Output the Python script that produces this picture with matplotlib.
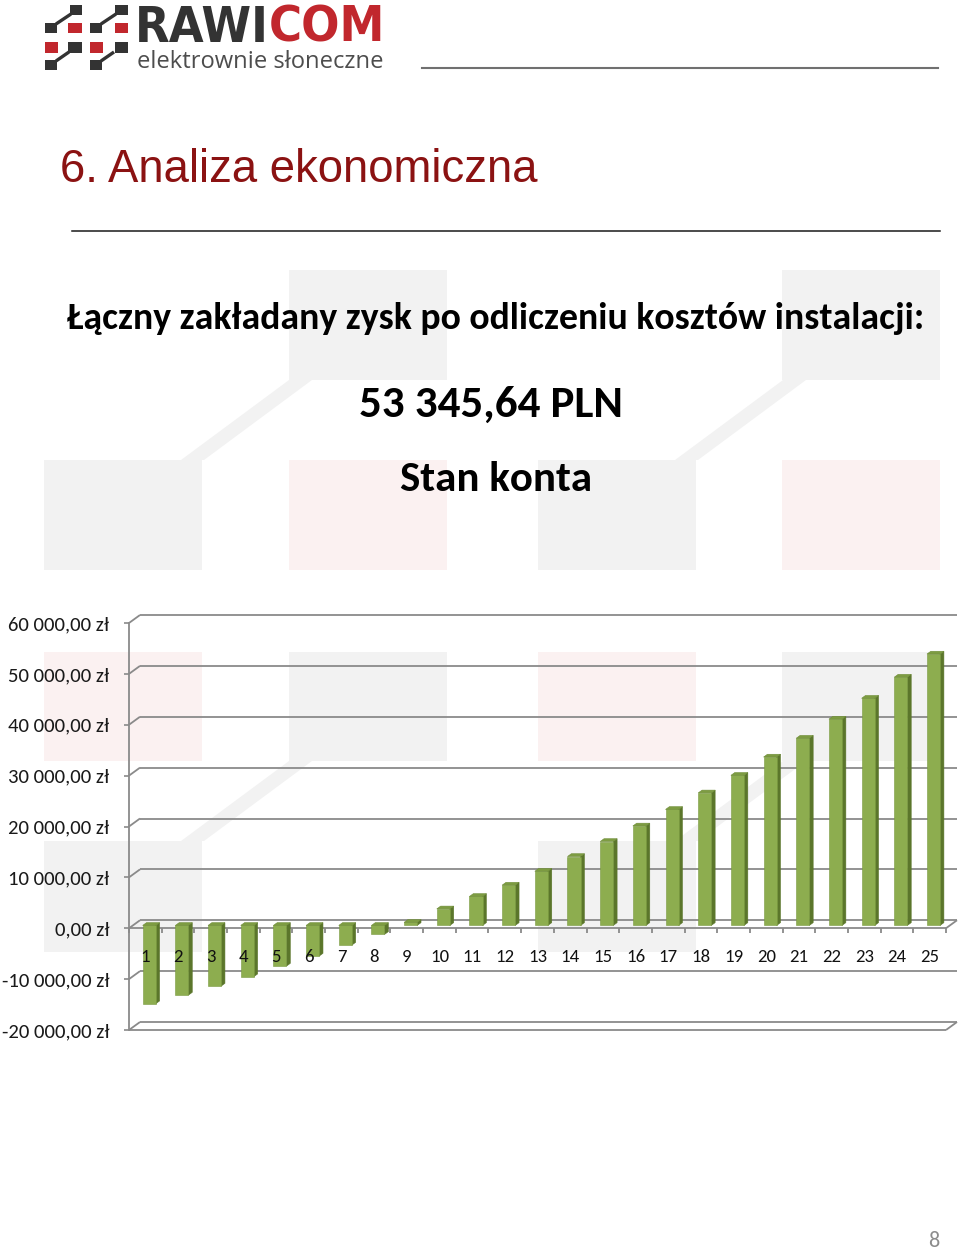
import matplotlib
matplotlib.use("Agg")
import matplotlib.pyplot as plt
import matplotlib.transforms as mtransforms
from matplotlib.patches import Polygon, Rectangle
from matplotlib import font_manager as fm

# ---------------- data ----------------
years = list(range(1, 26))
balance = [-15390, -13700, -11930, -10080, -8000, -6030, -3870, -1770, 600, 3250,
           5700, 7920, 10650, 13550, 16500, 19550, 22800, 26050, 29500, 33100,
           36800, 40550, 44650, 48800, 53345.64]
tick_values = [-20000, -10000, 0, 10000, 20000, 30000, 40000, 50000, 60000]
tick_labels = ["-20 000,00 zł", "-10 000,00 zł", "0,00 zł", "10 000,00 zł",
               "20 000,00 zł", "30 000,00 zł", "40 000,00 zł", "50 000,00 zł",
               "60 000,00 zł"]
heading = "Łączny zakładany zysk po odliczeniu kosztów instalacji:"
total_text = "53 345,64 PLN"
chart_title = "Stan konta"
slide_title = "6. Analiza ekonomiczna"

# ---------------- setup ----------------
W, H = 960, 1249
fig = plt.figure(figsize=(W / 100, H / 100), dpi=100)
fig.patch.set_facecolor("white")


def avail(name):
    try:
        fm.findfont(fm.FontProperties(family=name), fallback_to_default=False)
        return True
    except Exception:
        return False


BODY = "Carlito" if avail("Carlito") else "Lato"
ARIAL = "Liberation Sans"

# a condensed bold face for the logo, if one is installed
cands = []
for f in fm.fontManager.ttflist:
    nm = f.name + " " + str(f.fname)
    narrow = ("Condensed" in nm or "Narrow" in nm or "Cond" in nm or
              str(f.stretch) in ("condensed", "semi-condensed", "extra-condensed"))
    w = f.weight if isinstance(f.weight, int) else (700 if "bold" in str(f.weight).lower() else 400)
    if narrow and w >= 600 and "Oblique" not in f.fname and "Italic" not in f.fname:
        cands.append(f)
if cands:
    cands.sort(key=lambda f: (0 if "Sans" in f.name else 1, f.fname))
    logo_fp = fm.FontProperties(fname=cands[0].fname)
else:
    logo_fp = fm.FontProperties(family="DejaVu Sans", weight="bold")

renderer = fig.canvas.get_renderer()


def fy(py):
    return 1 - py / H


def fit_text(s, x, width, baseline, ha="left", **kw):
    t = fig.text(x / W, fy(baseline), s, ha=ha, va="baseline", fontsize=20, **kw)
    w = t.get_window_extent(renderer).width
    t.set_fontsize(20 * width / w)
    return t


def fit_size(s, width, **kw):
    t = fig.text(0, 0, s, fontsize=20, **kw)
    w = t.get_window_extent(renderer).width
    t.remove()
    return 20 * width / w


# ---------------- background (watermark + logo) ----------------
bg = fig.add_axes([0, 0, 1, 1], zorder=0)
bg.set_xlim(0, W)
bg.set_ylim(H, 0)
bg.axis("off")

WM_GREY = "#f2f2f2"
WM_PINK = "#fbf1f1"
cols = [(44, 202), (289, 447), (538, 696), (782, 940)]
rows = [(270, 380), (460, 570), (652, 761), (841, 952)]
pattern = [
    [None, WM_GREY, None, WM_GREY],
    [WM_GREY, WM_PINK, WM_GREY, WM_PINK],
    [WM_PINK, WM_GREY, WM_PINK, WM_GREY],
    [WM_GREY, None, WM_GREY, None],
]
for r, (y0, y1) in enumerate(rows):
    for c, (x0, x1) in enumerate(cols):
        col = pattern[r][c]
        if col:
            bg.add_patch(Rectangle((x0, y0), x1 - x0, y1 - y0, color=col, lw=0))
for (ylow, yup) in [(460, 380), (841, 761)]:
    for off in (0, 494):
        bg.add_patch(Polygon([(181 + off, ylow), (204 + off, ylow),
                              (312 + off, yup), (289 + off, yup)],
                             closed=True, color=WM_GREY, lw=0))

# logo icon
DARK = "#333333"
RED = "#c1272d"
logo_sq = [
    (70, 5, 82, 15, DARK), (115, 5, 128, 15, DARK),
    (45, 23, 57, 33, DARK), (68, 23, 82, 33, RED), (90, 23, 102, 33, DARK), (115, 23, 128, 33, RED),
    (45, 42, 58, 53, RED), (68, 42, 82, 53, DARK), (90, 42, 103, 53, RED), (115, 42, 128, 53, DARK),
    (45, 60, 57, 70, DARK), (90, 60, 102, 70, DARK),
]
for x0, y0, x1, y1, c in logo_sq:
    bg.add_patch(Rectangle((x0, y0), x1 - x0, y1 - y0, color=c, lw=0))
for off in (0, 45):
    bg.plot([71 + off, 56 + off], [14, 24], color=DARK, lw=2.4, solid_capstyle="butt")
    bg.plot([69 + off, 56 + off], [52, 61], color=DARK, lw=2.4, solid_capstyle="butt")

# logo text
fs_logo = fit_size("RAWICOM", 250, fontproperties=logo_fp)
t_r = fig.text(135 / W, fy(42), "RAWI", fontproperties=logo_fp, color=DARK, va="baseline")
t_r.set_fontsize(fs_logo)
wr = t_r.get_window_extent(renderer).width
t_c = fig.text((135 + wr) / W, fy(42), "COM", fontproperties=logo_fp, color=RED, va="baseline")
t_c.set_fontsize(fs_logo)
fit_text("elektrownie słoneczne", 137, 245, 68, fontfamily="Open Sans", color="#4d4d4d")
bg.plot([422, 938], [68, 68], color="#707070", lw=1.5)

# slide title
fit_text(slide_title, 60, 478, 182, fontfamily=ARIAL, color="#8b1212")
bg.plot([72, 940], [231, 231], color="#1a1a1a", lw=1.1)

# headings
fit_text(heading, 496, 858, 329, ha="center", fontfamily=BODY, fontweight="bold", color="black")
fit_text(total_text, 491, 264, 417, ha="center", fontfamily=BODY, fontweight="bold", color="black")
fit_text(chart_title, 496, 192, 491, ha="center", fontfamily=BODY, fontweight="bold", color="black")

# page number
fig.text(933.5 / W, fy(1247), "8", ha="center", va="baseline", fontsize=16,
         fontfamily=BODY, color="#8c8c8c")

# ---------------- chart ----------------
FL, FR, FB, FT = 129, 946, 1030, 623  # front plane in pixels
ax = fig.add_axes([FL / W, fy(FB), (FR - FL) / W, (FB - FT) / H], zorder=2)
ax.set_xlim(0.5, 25.5)
ax.set_ylim(-20000, 60000)
ax.patch.set_alpha(0)
for s in ["top", "right", "bottom"]:
    ax.spines[s].set_visible(False)
GRID = "#8a8a8a"
ax.spines["left"].set_color(GRID)
ax.spines["left"].set_linewidth(1.3)
ax.set_xticks([])
fs_tick = fit_size("60 000,00 zł", 101, fontfamily=BODY)
ax.set_yticks(tick_values)
ax.set_yticklabels(tick_labels, fontfamily=BODY, fontsize=fs_tick, color="#1a1a1a")
ax.tick_params(axis="y", length=3.6, width=1.2, color=GRID, pad=10.5)

ux = 25 / (FR - FL)
uy = 80000 / (FB - FT)
DX = 11 * ux
DY = 8 * uy

lkw = dict(color=GRID, lw=1.3, clip_on=False, zorder=1, solid_capstyle="butt")
for v in tick_values:
    ax.plot([0.5, 0.5 + DX], [v, v + DY], **lkw)
    ax.plot([0.5 + DX, 25.5 + DX], [v + DY, v + DY], **lkw)
for v in (0, -20000):
    ax.plot([0.5, 25.5], [v, v], **lkw)
    ax.plot([25.5, 25.5 + DX], [v, v + DY], **lkw)
for b in range(26):
    ax.plot([b + 0.5, b + 0.5], [0, -5 * uy], **lkw)

FRONT_C = "#8dad4f"
SIDE_C = "#5b762b"
TOP_C = "#7d9c42"
BW = 0.2
d1, d2 = 0.35, 0.7
for x, v in zip(years, balance):
    xf0, xf1 = x - BW + d1 * DX, x + BW + d1 * DX
    xb0, xb1 = x - BW + d2 * DX, x + BW + d2 * DX
    yf, yb = d1 * DY, d2 * DY
    top = max(v, 0)
    bot = min(v, 0)
    pk = dict(closed=True, lw=0.4, clip_on=False, zorder=3)
    ax.add_patch(Polygon([(xf1, bot + yf), (xb1, bot + yb), (xb1, top + yb), (xf1, top + yf)],
                         facecolor=SIDE_C, edgecolor=SIDE_C, **pk))
    ax.add_patch(Polygon([(xf0, bot + yf), (xf1, bot + yf), (xf1, top + yf), (xf0, top + yf)],
                         facecolor=FRONT_C, edgecolor="#7a9a40", **pk))
    ax.add_patch(Polygon([(xf0, top + yf), (xf1, top + yf), (xb1, top + yb), (xb0, top + yb)],
                         facecolor=TOP_C, edgecolor="#6f8d38", **pk))

fs_cat = fit_size("25", 19, fontfamily=BODY)
blend = mtransforms.blended_transform_factory(ax.transData, ax.transAxes)
for x in years:
    ax.text(x, (FB - 962) / (FB - FT), str(x), transform=blend, ha="center", va="baseline",
            fontsize=fs_cat, fontfamily=BODY, color="#111111", zorder=5)

fig.savefig("out.png", dpi=100, facecolor="white")
